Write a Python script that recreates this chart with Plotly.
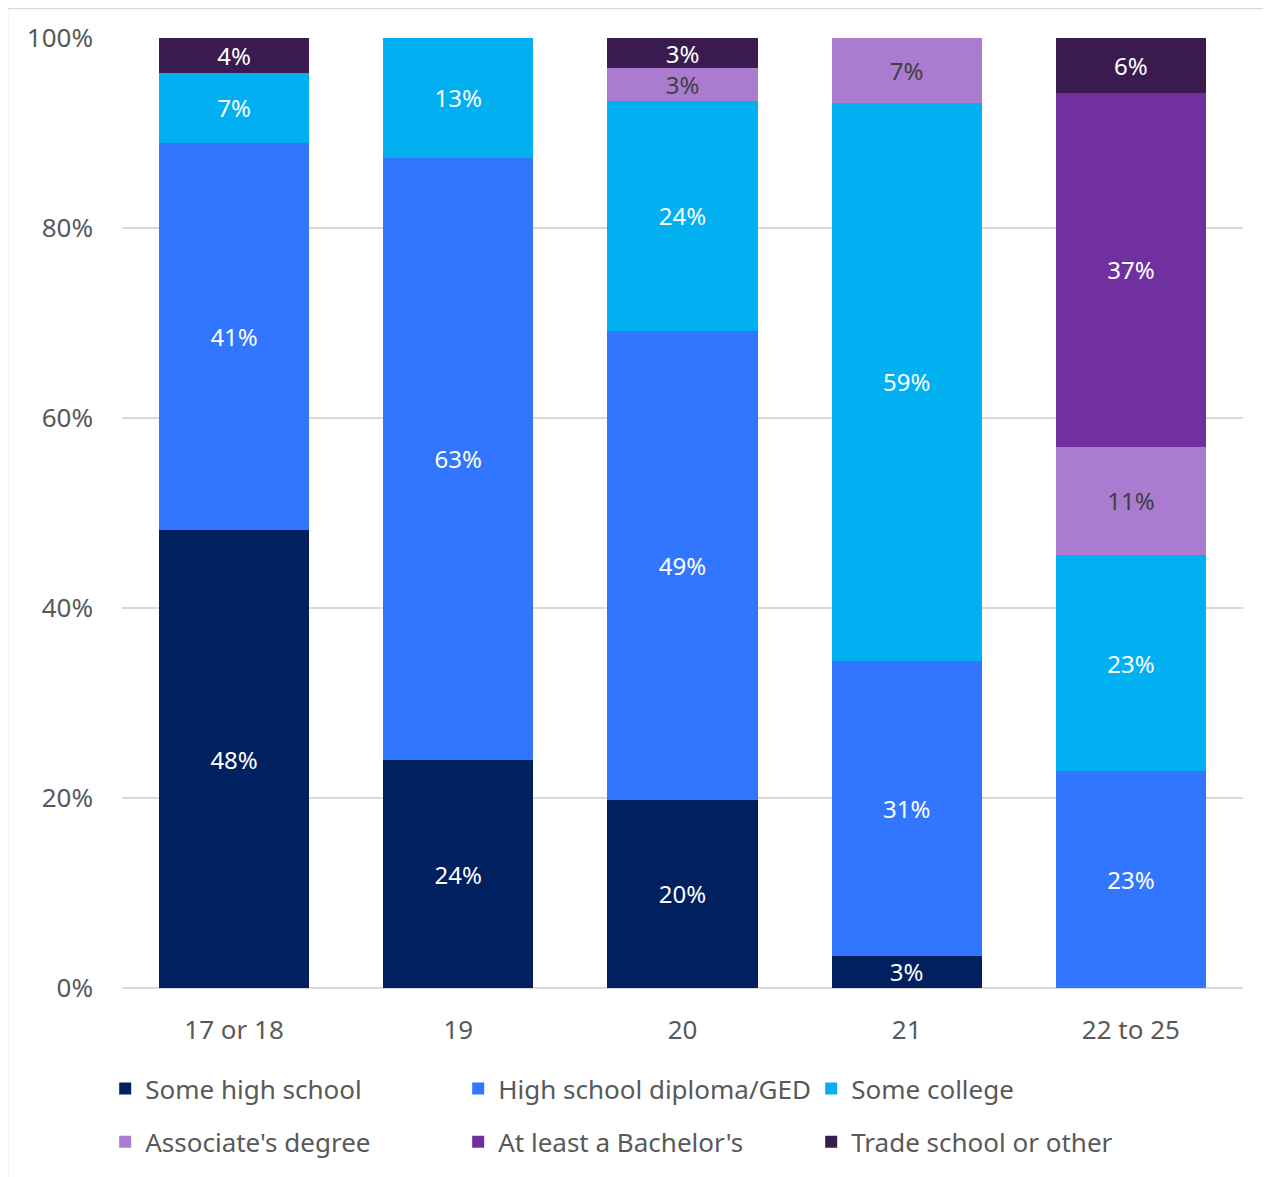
import plotly.graph_objects as go

categories = ["17 or 18", "19", "20", "21", "22 to 25"]
series_names = ["Some high school", "High school diploma/GED", "Some college",
                "Associate's degree", "At least a Bachelor's", "Trade school or other"]
some_hs = [48.2, 24.0, 19.8, 3.4, None]
hs_diploma = [40.8, 63.4, 49.4, 31.0, 22.8]
some_college = [7.3, 12.6, 24.2, 58.8, 22.8]
associate = [None, None, 3.4, 6.8, 11.4]
bachelor = [None, None, None, None, 37.2]
trade = [3.7, None, 3.2, None, 5.8]
tick_vals = [0, 20, 40, 60, 80, 100]
tick_text = ["0%", "20%", "40%", "60%", "80%", "100%"]

colors = ["#002060", "#3276FF", "#00B0F0", "#AB7BD0", "#7030A0", "#3A1B4F"]
label_colors = ["white", "white", "white", "#404040", "white", "white"]
series = [some_hs, hs_diploma, some_college, associate, bachelor, trade]
legend_ids = ["legend", "legend", "legend", "legend2", "legend2", "legend2"]

FONT = "Noto Sans"
fig = go.Figure()
for name, vals, col, lc, lg in zip(series_names, series, colors, label_colors, legend_ids):
    fig.add_trace(go.Bar(
        x=categories, y=vals, name=name, legend=lg,
        marker=dict(color=col, line=dict(width=0)),
        texttemplate="%{y:.0f}%", textposition="inside",
        insidetextanchor="middle", textangle=0, constraintext="none",
        textfont=dict(family=FONT, size=24, color=lc),
        hoverinfo="skip",
    ))

leg_common = dict(orientation="h", xanchor="left", yanchor="middle",
                  entrywidth=308, entrywidthmode="pixels", traceorder="normal",
                  font=dict(family=FONT, size=26, color="#595959"),
                  bgcolor="rgba(0,0,0,0)")

fig.update_layout(
    barmode="stack", bargap=0.33,
    width=1263, height=1169,
    margin=dict(l=114, r=28, t=30, b=187),
    paper_bgcolor="white", plot_bgcolor="white",
    font=dict(family=FONT, color="#595959"),
    showlegend=True,
    legend=dict(x=-0.015, y=-0.106, **leg_common),
    legend2=dict(x=-0.015, y=-0.162, **leg_common),
    xaxis=dict(tickfont=dict(family=FONT, size=26, color="#595959"), showline=False,
               ticks="", showgrid=False, ticklabelstandoff=24),
    yaxis=dict(range=[0, 100], tickvals=tick_vals, ticktext=tick_text,
               tickfont=dict(family=FONT, size=26, color="#595959"),
               showgrid=True, gridcolor="#D9D9D9", gridwidth=1.5, zeroline=True,
               zerolinecolor="#D9D9D9", zerolinewidth=1.5, ticks="", ticklabelstandoff=28),
    shapes=[dict(type="rect", xref="paper", yref="paper",
                 x0=-114.5 / 1121, x1=1.2, y0=-0.3, y1=1 + 29.5 / 952,
                 line=dict(color="#D9D9D9", width=1.5), fillcolor="rgba(0,0,0,0)", layer="below")],
)

fig.write_html("out.html")
